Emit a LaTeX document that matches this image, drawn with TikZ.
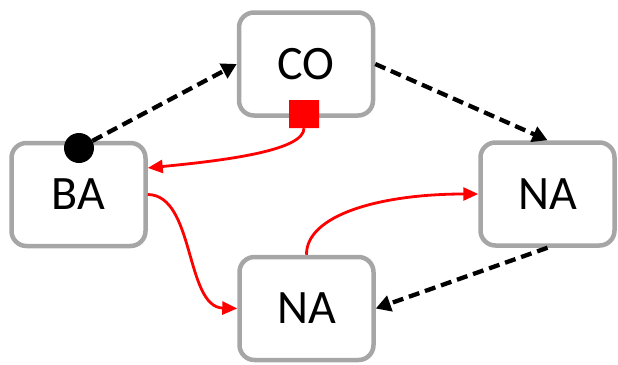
\documentclass[tikz,border=0pt]{standalone}
\usepackage{fontspec}
\setmainfont{Carlito}
\usetikzlibrary{arrows.meta,shapes.misc}
\definecolor{boxgray}{RGB}{166,166,166}
\begin{document}
\begin{tikzpicture}[x=1pt,y=-1pt,
  box/.style={draw=boxgray, line width=4.5pt, rounded corners=15pt, minimum width=134pt, minimum height=103pt, fill=white, font=\fontsize{48}{56}\selectfont, inner sep=0pt},
  dasharrow/.style={draw=black, line width=4.3pt, dash pattern=on 11pt off 6pt, -{Triangle[length=15pt,width=16pt]}},
  redarrow/.style={draw=red, line width=2.8pt, -{Triangle[length=15pt,width=13pt]}},
  dotmark/.style={circle, fill=black, minimum size=30pt, inner sep=0pt},
  sqmark/.style={chamfered rectangle, fill=red, minimum width=30pt, minimum height=28pt, inner sep=0pt, chamfered rectangle xsep=3pt, chamfered rectangle ysep=3pt}]
\useasboundingbox (0,0) rectangle (618,364);
\node[box] (co) at (306,64) {CO};
\node[box] (ba) at (78.5,194.5) {BA};
\node[box] (nar) at (547.5,194) {NA};
\node[box] (nab) at (306.5,308.5) {NA};
\node[dotmark] (dot) at (79,148) {};
\node[sqmark] (sq) at (304,114) {};
\draw[dasharrow] (dot) -- (co.west);
\draw[dasharrow] (co.east) -- (nar.north);
\draw[dasharrow] (nar.south) -- (nab.east);
\draw[redarrow] (sq.south) .. controls (304,150) and (230,160) .. (ba.21);
\draw[redarrow] (ba.east) .. controls (195,195) and (185,307) .. (nab.west);
\draw[redarrow] (nab.north) .. controls (306,215) and (380,194) .. (nar.west);
\end{tikzpicture}
\end{document}
